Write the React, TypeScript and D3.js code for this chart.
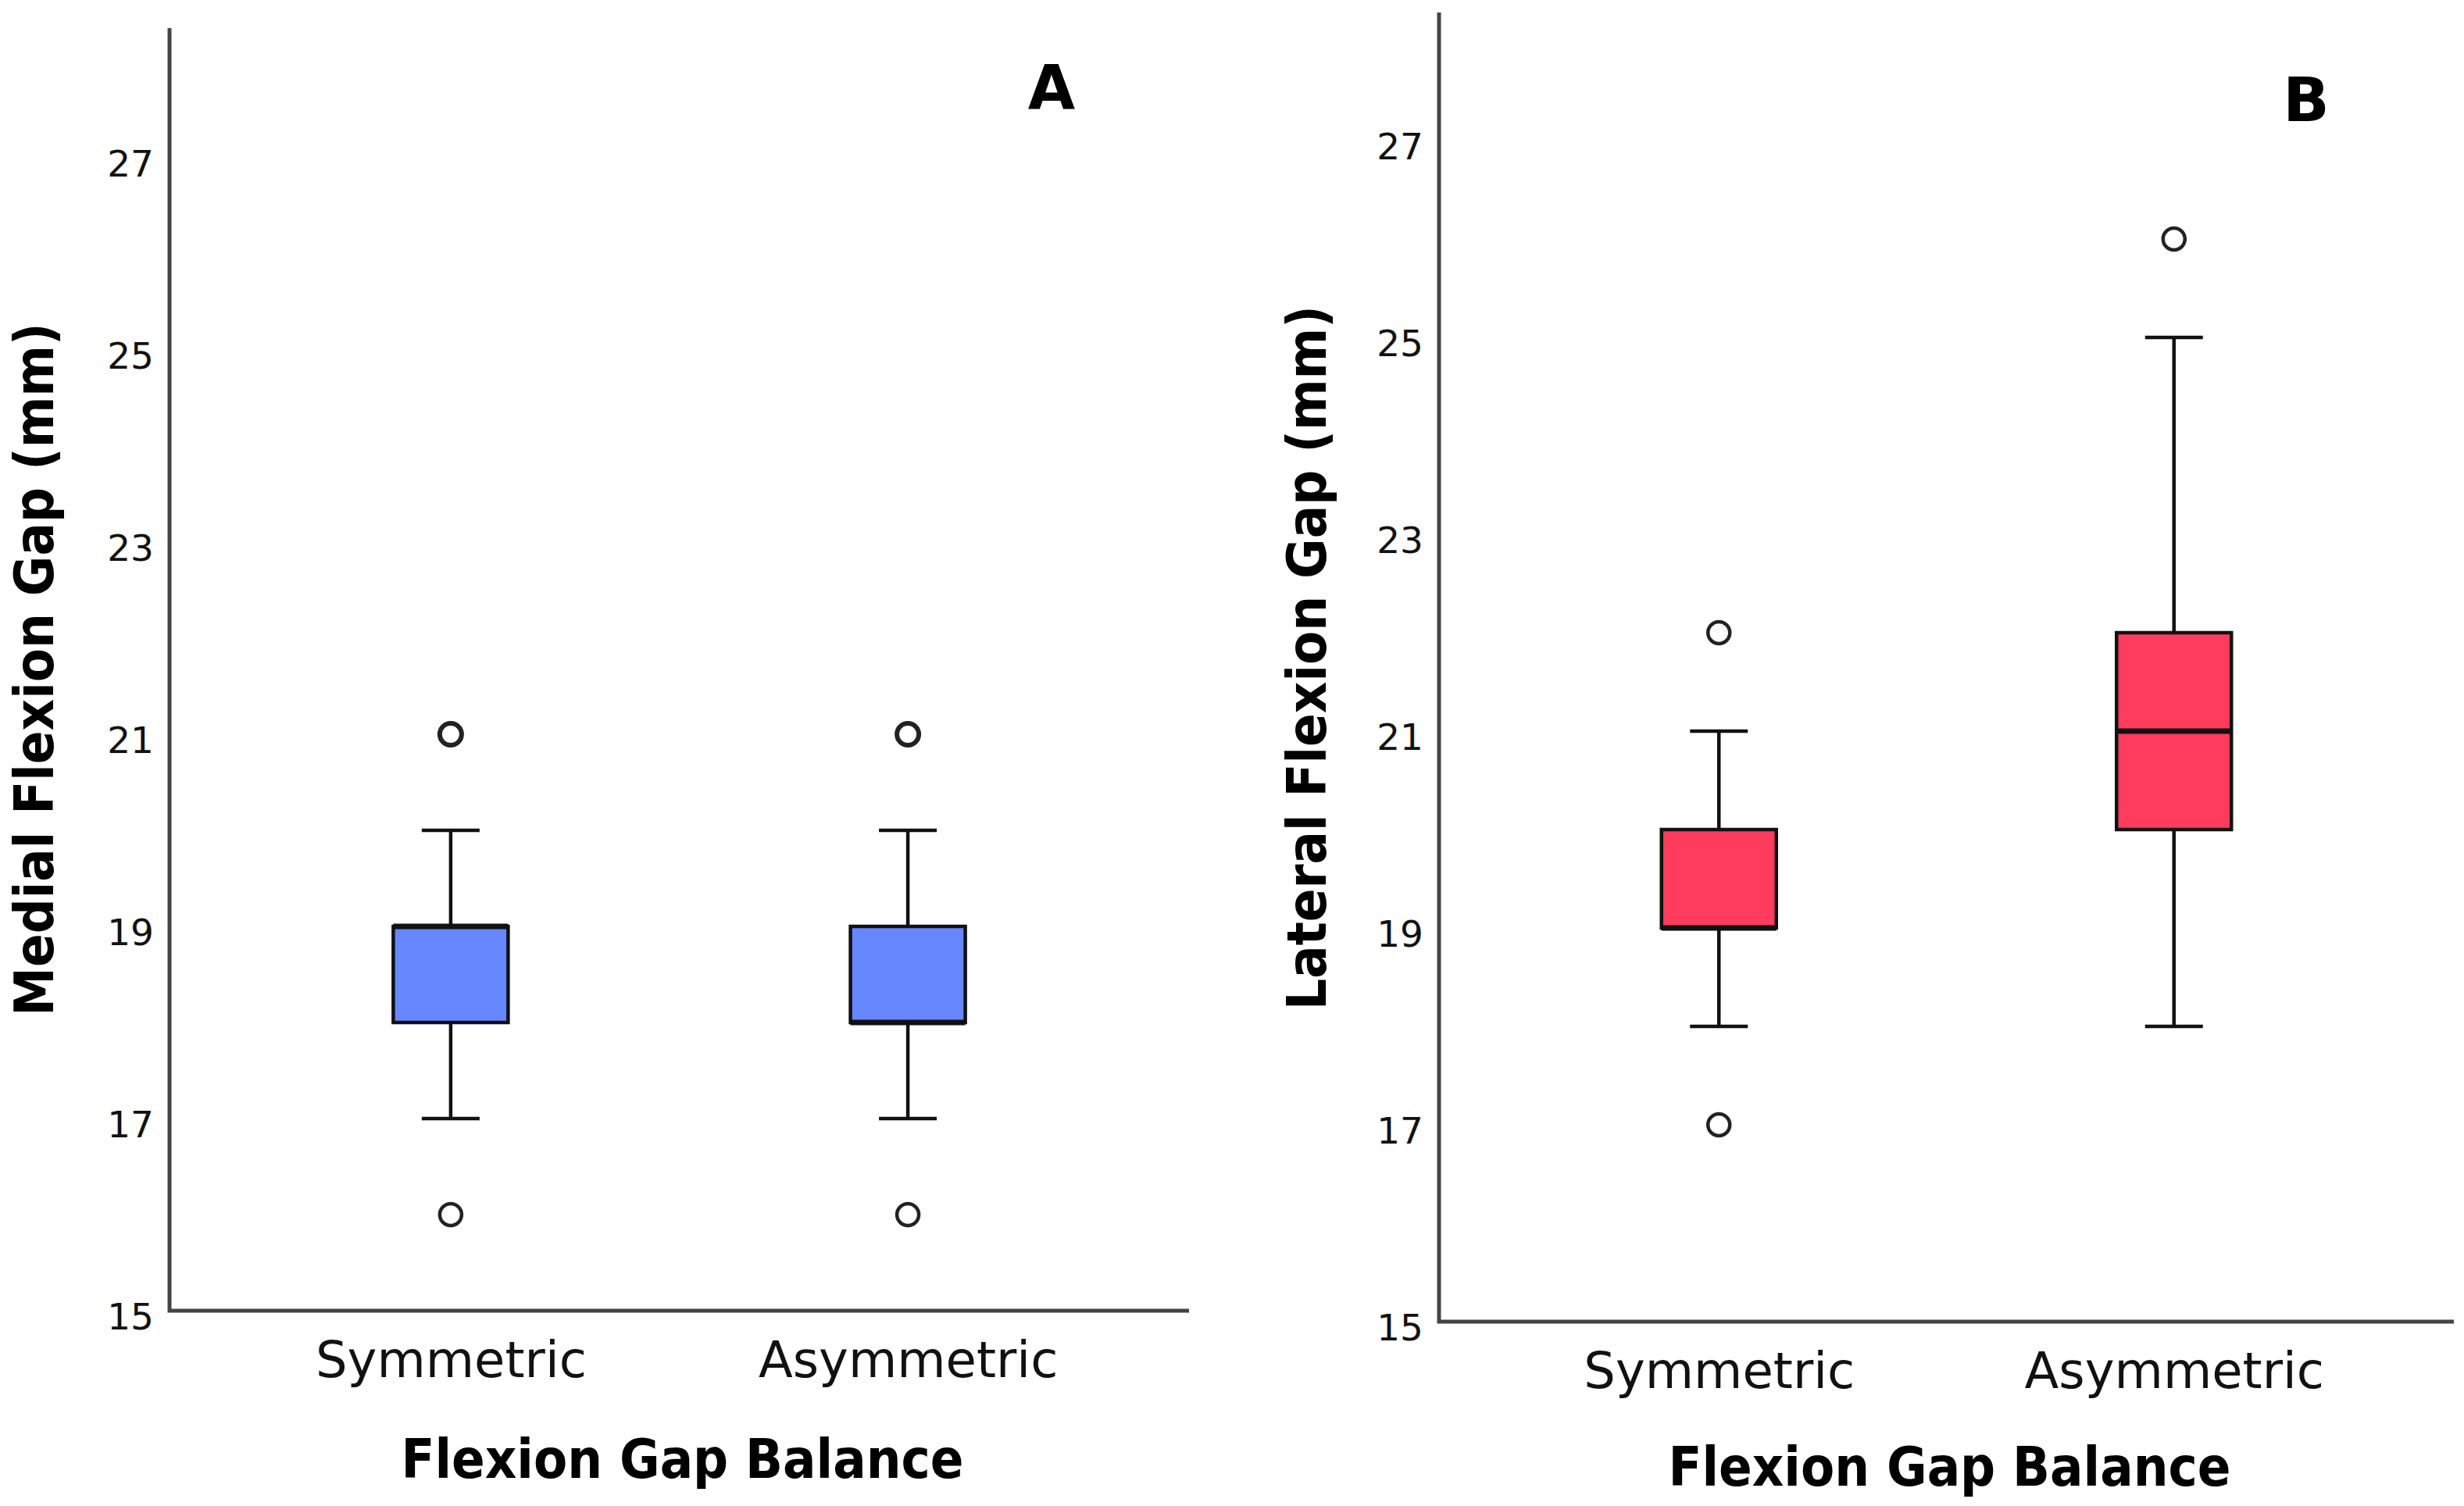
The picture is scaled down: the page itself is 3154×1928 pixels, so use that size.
import { useEffect, useRef } from "react";
import * as d3 from "d3";

// categories and y ticks shared by both panels
const categories = ["Symmetric", "Asymmetric"];
const yTicks = [15, 17, 19, 21, 23, 25, 27];

// Panel A: medial flexion gap (mm)
const medialQ1 = [18, 18];
const medialMedian = [19, 18];
const medialQ3 = [19, 19];
const medialLow = [17, 17];
const medialHigh = [20, 20];
const medialOutliers = [[21, 16], [21, 16]];

// Panel B: lateral flexion gap (mm)
const lateralQ1 = [19, 20];
const lateralMedian = [19, 21];
const lateralQ3 = [20, 22];
const lateralLow = [18, 18];
const lateralHigh = [21, 25];
const lateralOutliers = [[22, 17], [26]];

const W = 3154;
const H = 1928;
const FONT = "'DejaVu Sans', Verdana, sans-serif";
const TITLE_FONT = "'DejaVu Sans Condensed', 'DejaVu Sans', sans-serif";

interface Panel {
  letter: string;
  yTitle: string;
  fill: string;
  q1: number[];
  median: number[];
  q3: number[];
  low: number[];
  high: number[];
  outliers: number[][];
  left: number;
  right: number;
  top: number;
  bottom: number;
  unit: number; // px per mm
  yTitleX: number;
  yTitleY: number;
  xTitleY: number;
  letterX: number;
  letterY: number;
}

const panels: Panel[] = [
  {
    letter: "A",
    yTitle: "Medial Flexion Gap (mm)",
    fill: "#6687ff",
    q1: medialQ1,
    median: medialMedian,
    q3: medialQ3,
    low: medialLow,
    high: medialHigh,
    outliers: medialOutliers,
    left: 217,
    right: 1522,
    top: 36,
    bottom: 1678,
    unit: 123,
    yTitleX: 44,
    yTitleY: 857,
    xTitleY: 1868,
    letterX: 1346,
    letterY: 139,
  },
  {
    letter: "B",
    yTitle: "Lateral Flexion Gap (mm)",
    fill: "#ff3b5e",
    q1: lateralQ1,
    median: lateralMedian,
    q3: lateralQ3,
    low: lateralLow,
    high: lateralHigh,
    outliers: lateralOutliers,
    left: 1842,
    right: 3141,
    top: 16,
    bottom: 1692,
    unit: 126,
    yTitleX: 1673,
    yTitleY: 842,
    xTitleY: 1878,
    letterX: 2952,
    letterY: 155,
  },
];

export default function App() {
  const hostRef = useRef<SVGSVGElement | null>(null);

  useEffect(() => {
    if (!hostRef.current) return;
    const svg = d3.select(hostRef.current);
    svg.selectAll("*").remove();

    svg.append("rect").attr("width", W).attr("height", H).attr("fill", "#ffffff");

    panels.forEach((p) => {
      const g = svg.append("g");
      const yMax = 15 + (p.bottom - p.top) / p.unit;
      const y = d3.scaleLinear().domain([15, yMax]).range([p.bottom, p.top]);
      const x = d3.scalePoint<string>().domain(categories).range([p.left, p.right]).padding(0.615);

      const boxW = 147;
      const capW = 74;

      // y tick labels
      const yAxis = g
        .append("g")
        .attr("transform", `translate(${p.left},0)`)
        .call(d3.axisLeft(y).tickValues(yTicks).tickSize(0).tickPadding(20).tickFormat(d3.format("d")));
      yAxis.select(".domain").remove();
      yAxis
        .selectAll("text")
        .attr("font-family", FONT)
        .attr("font-size", 47)
        .attr("fill", "#111")
        .attr("dy", "0.5em");

      // category labels
      const xAxis = g
        .append("g")
        .attr("transform", `translate(0,${p.bottom})`)
        .call(d3.axisBottom(x).tickSize(0).tickPadding(40));
      xAxis.select(".domain").remove();
      xAxis.selectAll("text").attr("font-family", FONT).attr("font-size", 64).attr("fill", "#111");

      // axis lines (L shape)
      g.append("path")
        .attr("d", `M${p.left},${p.top}V${p.bottom}H${p.right}`)
        .attr("fill", "none")
        .attr("stroke", "#444")
        .attr("stroke-width", 5);

      // boxes
      categories.forEach((c, i) => {
        const cx = x(c)!;
        const bg = g.append("g");
        const line = (x1: number, y1: number, x2: number, y2: number, w = 4.5) =>
          bg
            .append("line")
            .attr("x1", x1)
            .attr("y1", y1)
            .attr("x2", x2)
            .attr("y2", y2)
            .attr("stroke", "#111")
            .attr("stroke-width", w);

        // whiskers
        line(cx, y(p.high[i]), cx, y(p.q3[i]));
        line(cx, y(p.q1[i]), cx, y(p.low[i]));
        line(cx - capW / 2, y(p.high[i]), cx + capW / 2, y(p.high[i]));
        line(cx - capW / 2, y(p.low[i]), cx + capW / 2, y(p.low[i]));

        bg.append("rect")
          .attr("x", cx - boxW / 2)
          .attr("y", y(p.q3[i]))
          .attr("width", boxW)
          .attr("height", y(p.q1[i]) - y(p.q3[i]))
          .attr("fill", p.fill)
          .attr("stroke", "#111")
          .attr("stroke-width", 4.5);

        line(cx - boxW / 2, y(p.median[i]), cx + boxW / 2, y(p.median[i]), 7);

        p.outliers[i].forEach((v) => {
          bg.append("circle")
            .attr("cx", cx)
            .attr("cy", y(v))
            .attr("r", 14)
            .attr("fill", "#fff")
            .attr("stroke", "#222")
            .attr("stroke-width", v === 21 && p.letter === "A" ? 6 : 4.5);
        });
      });

      // titles
      g.append("text")
        .attr("transform", `translate(${p.yTitleX},${p.yTitleY}) rotate(-90)`)
        .attr("text-anchor", "middle")
        .attr("dominant-baseline", "central")
        .attr("font-family", TITLE_FONT)
        .attr("font-stretch", "condensed")
        .attr("font-weight", "bold")
        .attr("font-size", 70)
        .attr("fill", "#000")
        .text(p.yTitle);

      g.append("text")
        .attr("x", (p.left + p.right) / 2 + 4)
        .attr("y", p.xTitleY)
        .attr("text-anchor", "middle")
        .attr("dominant-baseline", "central")
        .attr("font-family", TITLE_FONT)
        .attr("font-stretch", "condensed")
        .attr("font-weight", "bold")
        .attr("font-size", 70)
        .attr("fill", "#000")
        .text("Flexion Gap Balance");

      g.append("text")
        .attr("x", p.letterX)
        .attr("y", p.letterY)
        .attr("text-anchor", "middle")
        .attr("font-family", FONT)
        .attr("font-weight", "bold")
        .attr("font-size", 78)
        .attr("fill", "#000")
        .text(p.letter);
    });
  }, []);

  return (
    <svg
      ref={hostRef}
      width={W}
      height={H}
      viewBox={`0 0 ${W} ${H}`}
      style={{ display: "block", position: "absolute", left: 0, top: 0 }}
    />
  );
}
